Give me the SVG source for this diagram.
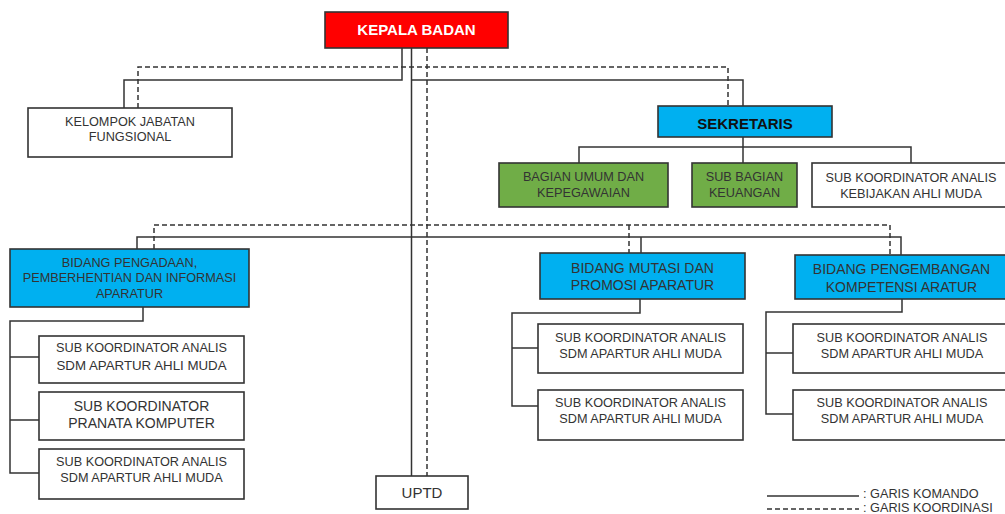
<svg xmlns="http://www.w3.org/2000/svg" width="1005" height="514" viewBox="0 0 1005 514">
<style>
.box{stroke:#333;stroke-width:1.6;fill:#fff}
.red{fill:#ff0000}
.blue{fill:#00b0f0}
.green{fill:#70ad47}
text{font-family:"Liberation Sans",Arial,sans-serif;fill:#333;text-anchor:middle;dominant-baseline:central;font-size:12.7px}
.big{font-size:14px}
.solid{stroke:#333;stroke-width:1.5;fill:none}
.dash{stroke:#333;stroke-width:1.5;fill:none;stroke-dasharray:5 3}
</style>
<rect width="1005" height="514" fill="#fff"/>
<g id="connectors">
<path class="solid" d="M411.5 48 V477"/>
<path class="dash" d="M427 48 V477"/>
<path class="solid" d="M402 48 V80 H124 V108"/>
<path class="solid" d="M411.5 80 H743 V106"/>
<path class="dash" d="M138 108 V67 H728 V106"/>
<path class="solid" d="M743 137 V163 M579 163 V147 H911 V163"/>
<path class="solid" d="M137 249 V237 H901 V255 M641 237 V253"/>
<path class="dash" d="M154 249 V225 H890 V255 M629 225 V253"/>
<path class="solid" d="M143 307 V321 H10 V473 H39 M10 357 H39 M10 420 H39"/>
<path class="solid" d="M640 299 V313 H512 V406 H538 M512 348 H538"/>
<path class="solid" d="M902 299 V312 H766 V414 H793 M766 353 H793"/>
</g>
<g id="kepala-badan">
<rect class="box red" x="325" y="12" width="183" height="36"/>
<text x="416.5" y="29" style="fill:#fff;font-weight:bold;font-size:15px">KEPALA BADAN</text>
</g>
<g id="kelompok-jabatan">
<rect class="box" x="28" y="108" width="204" height="49"/>
<text x="130" y="122">KELOMPOK JABATAN</text>
<text x="130" y="137">FUNGSIONAL</text>
</g>
<g id="sekretaris">
<rect class="box blue" x="658" y="106" width="174" height="31"/>
<text x="745" y="123" style="font-weight:bold;font-size:15px;fill:#111">SEKRETARIS</text>
</g>
<g id="bagian-umum">
<rect class="box green" x="499" y="163" width="169" height="44"/>
<text x="583.5" y="177">BAGIAN UMUM DAN</text>
<text x="583.5" y="193">KEPEGAWAIAN</text>
</g>
<g id="sub-bagian-keuangan">
<rect class="box green" x="692" y="163" width="105" height="44"/>
<text x="744.5" y="177">SUB BAGIAN</text>
<text x="744.5" y="193">KEUANGAN</text>
</g>
<g id="sub-koordinator-kebijakan">
<rect class="box" x="812" y="163" width="198" height="44"/>
<text x="911" y="178">SUB KOORDINATOR ANALIS</text>
<text x="911" y="194">KEBIJAKAN AHLI MUDA</text>
</g>
<g id="bidang-pengadaan">
<rect class="box blue" x="10" y="249" width="239" height="58"/>
<text x="129.5" y="263">BIDANG PENGADAAN,</text>
<text x="129.5" y="278">PEMBERHENTIAN DAN INFORMASI</text>
<text x="129.5" y="294">APARATUR</text>
</g>
<g id="pengadaan-sub1">
<rect class="box" x="39" y="336" width="205" height="47"/>
<text x="141.5" y="348">SUB KOORDINATOR ANALIS</text>
<text x="141.5" y="365" style="font-size:13.3px">SDM APARTUR AHLI MUDA</text>
</g>
<g id="pengadaan-sub2">
<rect class="box" x="39" y="392" width="205" height="48"/>
<text class="big" x="141.5" y="406">SUB KOORDINATOR</text>
<text class="big" x="141.5" y="423">PRANATA KOMPUTER</text>
</g>
<g id="pengadaan-sub3">
<rect class="box" x="39" y="449" width="205" height="50"/>
<text x="141.5" y="462">SUB KOORDINATOR ANALIS</text>
<text x="141.5" y="478">SDM APARTUR AHLI MUDA</text>
</g>
<g id="uptd">
<rect class="box" x="376" y="476" width="92" height="33"/>
<text x="422" y="492" style="font-size:15px">UPTD</text>
</g>
<g id="bidang-mutasi">
<rect class="box blue" x="540" y="253" width="205" height="46"/>
<text class="big" x="642.5" y="268">BIDANG MUTASI DAN</text>
<text class="big" x="642.5" y="285">PROMOSI APARATUR</text>
</g>
<g id="mutasi-sub1">
<rect class="box" x="538" y="324" width="205" height="49"/>
<text x="640.5" y="338">SUB KOORDINATOR ANALIS</text>
<text x="640.5" y="354">SDM APARTUR AHLI MUDA</text>
</g>
<g id="mutasi-sub2">
<rect class="box" x="538" y="390" width="205" height="50"/>
<text x="640.5" y="403">SUB KOORDINATOR ANALIS</text>
<text x="640.5" y="419">SDM APARTUR AHLI MUDA</text>
</g>
<g id="bidang-pengembangan">
<rect class="box blue" x="795" y="255" width="214" height="44"/>
<text class="big" x="901.5" y="269">BIDANG PENGEMBANGAN</text>
<text class="big" x="901.5" y="287">KOMPETENSI ARATUR</text>
</g>
<g id="pengembangan-sub1">
<rect class="box" x="793" y="324" width="217" height="49"/>
<text x="902" y="338">SUB KOORDINATOR ANALIS</text>
<text x="902" y="354">SDM APARTUR AHLI MUDA</text>
</g>
<g id="pengembangan-sub2">
<rect class="box" x="793" y="390" width="217" height="50"/>
<text x="902" y="403">SUB KOORDINATOR ANALIS</text>
<text x="902" y="419">SDM APARTUR AHLI MUDA</text>
</g>
<g id="legend">
<line class="solid" x1="767" y1="496" x2="859" y2="496"/>
<line class="dash" x1="767" y1="509" x2="859" y2="509"/>
<text x="863" y="494" style="text-anchor:start">: GARIS KOMANDO</text>
<text x="863" y="508" style="text-anchor:start">: GARIS KOORDINASI</text>
</g>
</svg>
